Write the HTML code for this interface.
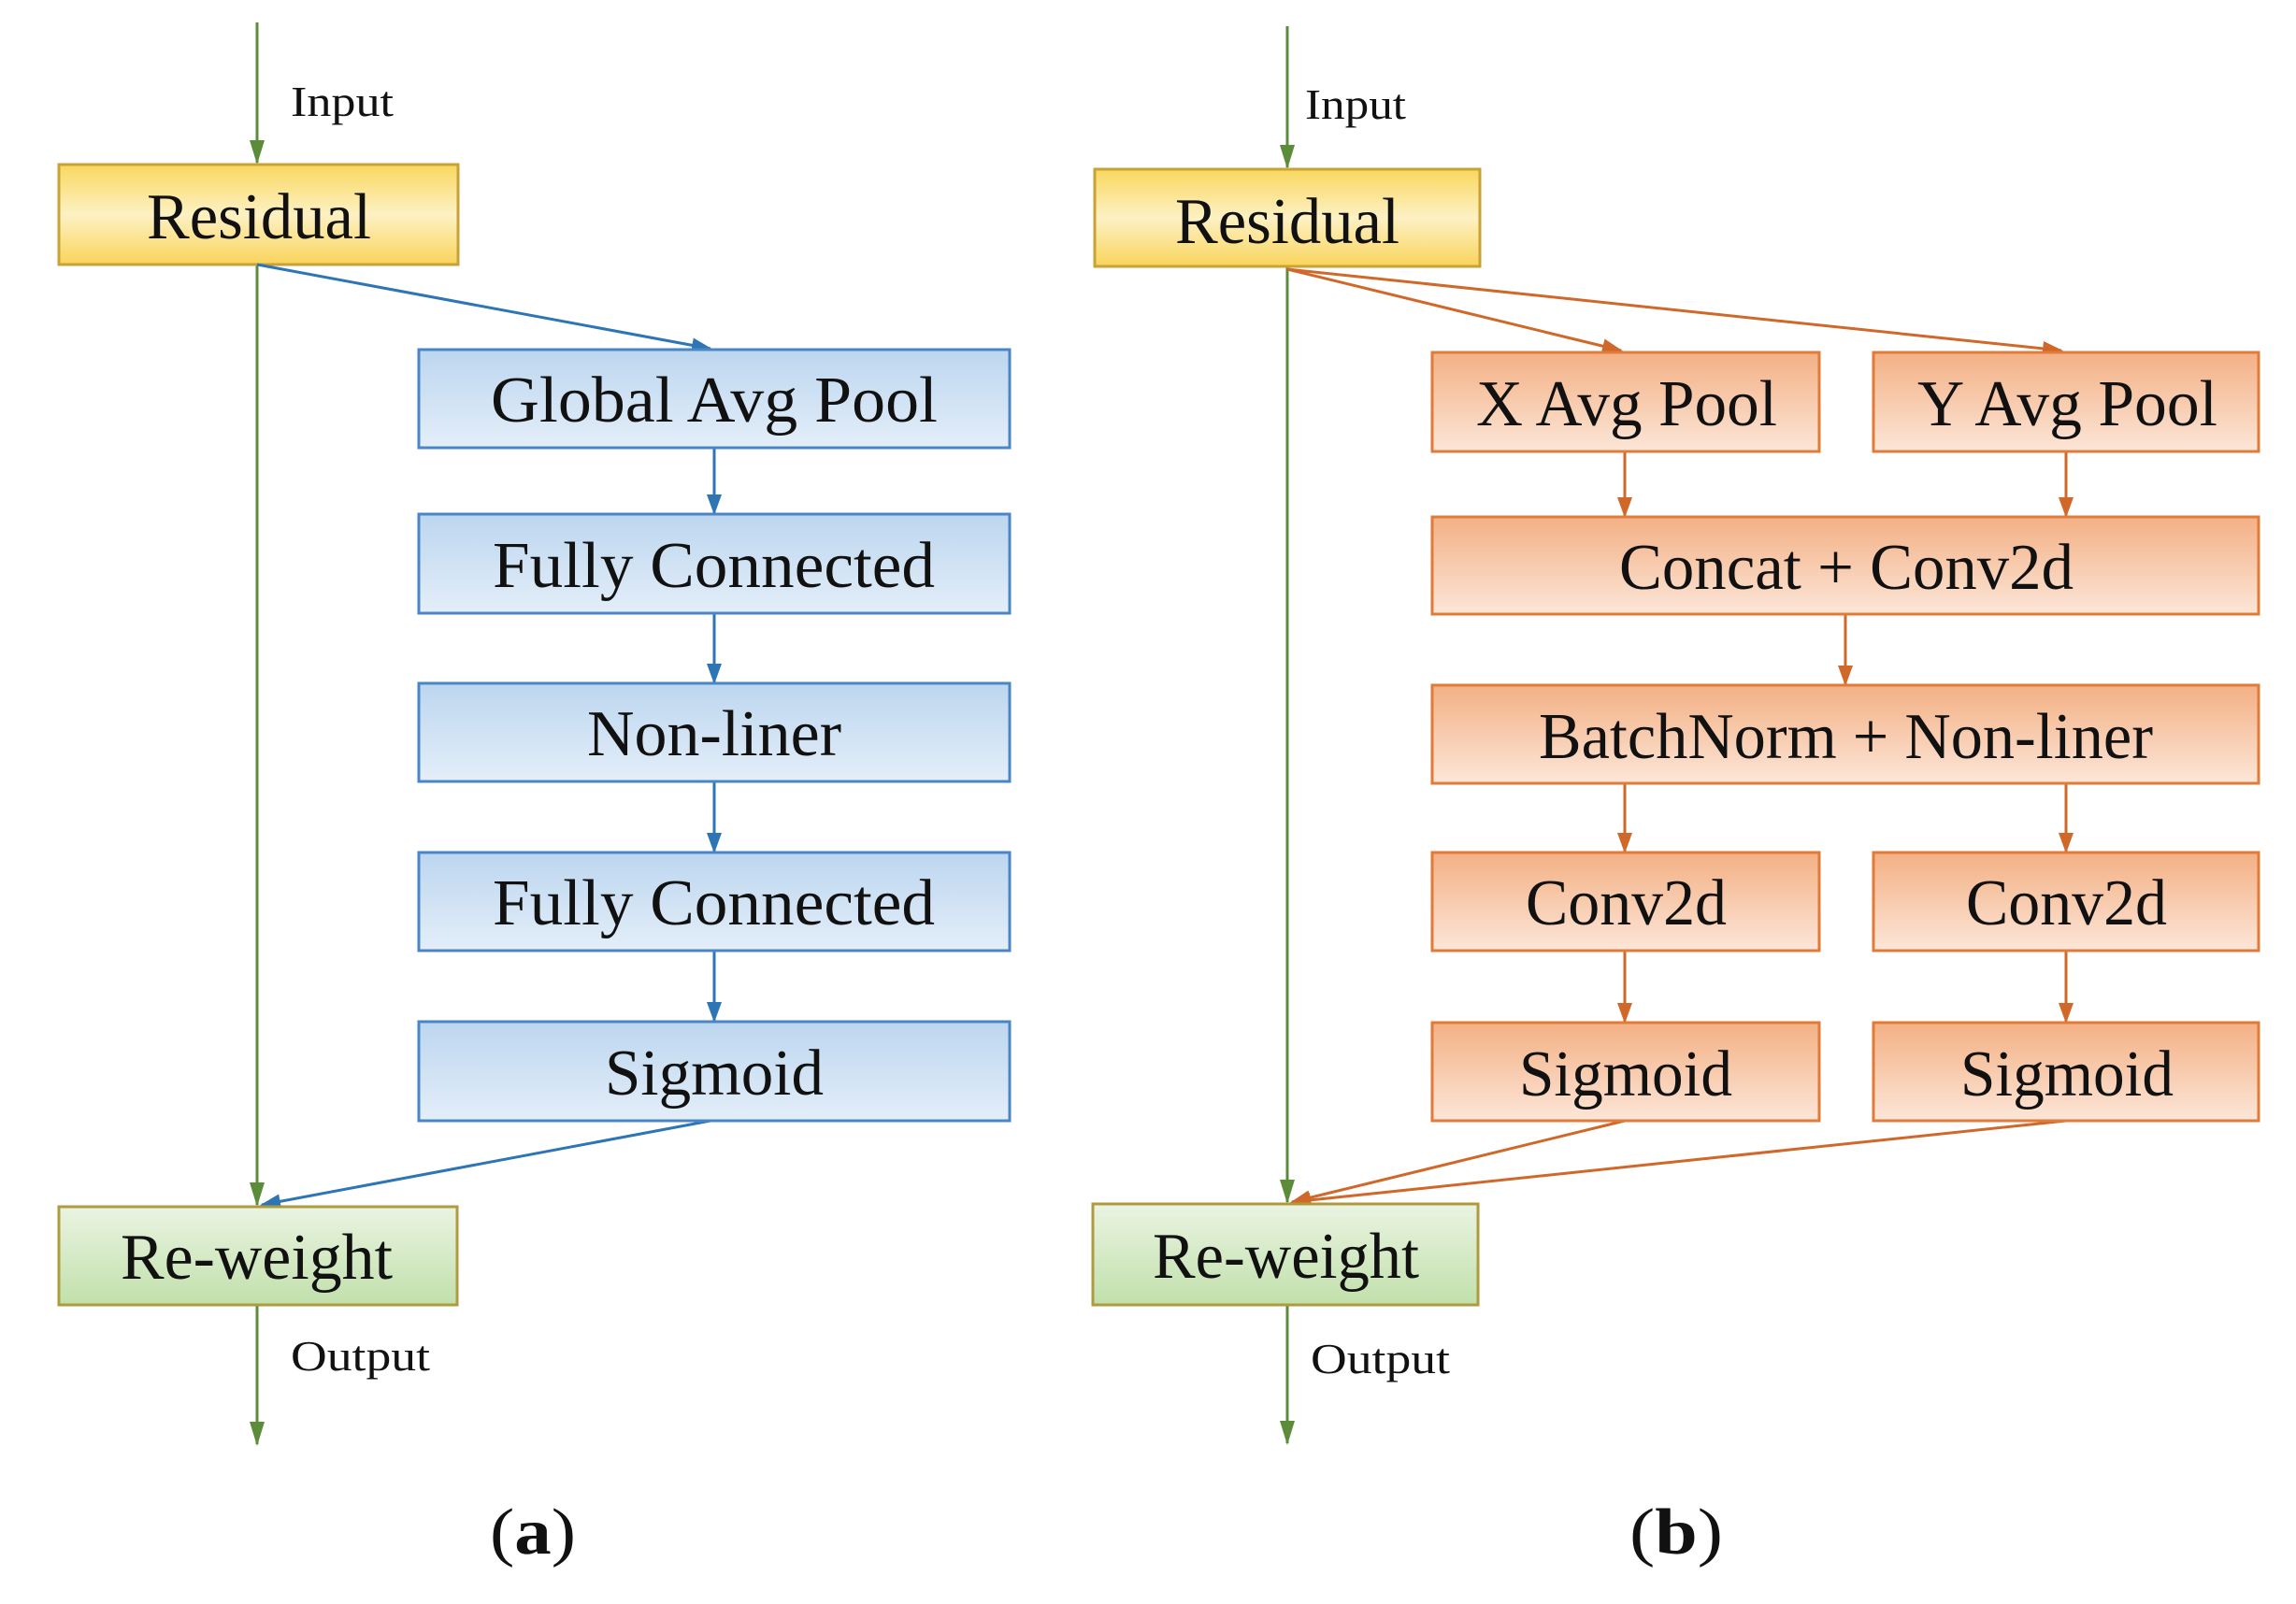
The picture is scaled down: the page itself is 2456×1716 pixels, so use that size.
<!DOCTYPE html>
<html><head><meta charset="utf-8"><style>
html,body{margin:0;padding:0;background:#fff;}
svg{display:block;}
text{font-family:"Liberation Serif",serif;fill:#111;}
</style></head><body>
<svg width="2456" height="1716" viewBox="0 0 2456 1716" xmlns="http://www.w3.org/2000/svg">
<defs>
<linearGradient id="gy" x1="0" y1="0" x2="0" y2="1"><stop offset="0" stop-color="#f9d75e"/><stop offset="0.5" stop-color="#fdf1c4"/><stop offset="1" stop-color="#f9d45a"/></linearGradient>
<linearGradient id="gb" x1="0" y1="0" x2="0" y2="1"><stop offset="0" stop-color="#bcd6ef"/><stop offset="1" stop-color="#e4eef9"/></linearGradient>
<linearGradient id="go" x1="0" y1="0" x2="0" y2="1"><stop offset="0" stop-color="#f3b084"/><stop offset="1" stop-color="#fce6d8"/></linearGradient>
<linearGradient id="gg" x1="0" y1="0" x2="0" y2="1"><stop offset="0" stop-color="#eaf4e2"/><stop offset="1" stop-color="#c1e0ab"/></linearGradient>
<marker id="ab" markerWidth="22" markerHeight="16" refX="20" refY="8" orient="auto" markerUnits="userSpaceOnUse"><path d="M0,0 L22,8 L0,16 z" fill="#2e75b6"/></marker>
<marker id="ao" markerWidth="22" markerHeight="16" refX="20" refY="8" orient="auto" markerUnits="userSpaceOnUse"><path d="M0,0 L22,8 L0,16 z" fill="#d0682a"/></marker>
<marker id="ag2" markerWidth="26" markerHeight="16" refX="24" refY="8" orient="auto" markerUnits="userSpaceOnUse"><path d="M0,0 L26,8 L0,16 z" fill="#5b8c3a"/></marker>
</defs>

<!-- ===== Panel (a) ===== -->
<g stroke="#5b8c3a" stroke-width="3" fill="none">
<line x1="275" y1="24" x2="275" y2="174" marker-end="url(#ag2)"/>
<line x1="275" y1="283" x2="275" y2="1289" marker-end="url(#ag2)"/>
<line x1="275" y1="1396" x2="275" y2="1545" marker-end="url(#ag2)"/>
</g>
<text x="311" y="124" font-size="46" textLength="110" lengthAdjust="spacingAndGlyphs">Input</text>
<text x="311" y="1466" font-size="46" textLength="149" lengthAdjust="spacingAndGlyphs">Output</text>

<rect x="63" y="176" width="427" height="107" fill="url(#gy)" stroke="#c9a236" stroke-width="3"/>
<text x="157" y="255" font-size="70" textLength="240" lengthAdjust="spacingAndGlyphs">Residual</text>

<g stroke="#2e75b6" stroke-width="3" fill="none">
<line x1="275" y1="283" x2="760" y2="373" marker-end="url(#ab)"/>
<line x1="764" y1="479" x2="764" y2="549" marker-end="url(#ab)"/>
<line x1="764" y1="656" x2="764" y2="730" marker-end="url(#ab)"/>
<line x1="764" y1="836" x2="764" y2="911" marker-end="url(#ab)"/>
<line x1="764" y1="1017" x2="764" y2="1092" marker-end="url(#ab)"/>
<line x1="760" y1="1199" x2="280" y2="1289" marker-end="url(#ab)"/>
</g>
<g fill="url(#gb)" stroke="#4a86c5" stroke-width="3">
<rect x="448" y="374" width="632" height="105"/>
<rect x="448" y="550" width="632" height="106"/>
<rect x="448" y="731" width="632" height="105"/>
<rect x="448" y="912" width="632" height="105"/>
<rect x="448" y="1093" width="632" height="106"/>
</g>
<text x="525" y="451" font-size="70" textLength="478" lengthAdjust="spacingAndGlyphs">Global Avg Pool</text>
<text x="527" y="628" font-size="70" textLength="473" lengthAdjust="spacingAndGlyphs">Fully Connected</text>
<text x="628" y="808" font-size="70" textLength="272" lengthAdjust="spacingAndGlyphs">Non-liner</text>
<text x="527" y="989" font-size="70" textLength="473" lengthAdjust="spacingAndGlyphs">Fully Connected</text>
<text x="647" y="1171" font-size="70" textLength="234" lengthAdjust="spacingAndGlyphs">Sigmoid</text>

<rect x="63" y="1291" width="426" height="105" fill="url(#gg)" stroke="#b09a3e" stroke-width="3"/>
<text x="129" y="1368" font-size="70" textLength="291" lengthAdjust="spacingAndGlyphs">Re-weight</text>

<text x="524" y="1662" font-size="70" textLength="92" lengthAdjust="spacingAndGlyphs">(<tspan font-weight="bold">a</tspan>)</text>

<!-- ===== Panel (b) ===== -->
<g transform="translate(-5,0)">
<g stroke="#5b8c3a" stroke-width="3" fill="none">
<line x1="1382" y1="28" x2="1382" y2="179" marker-end="url(#ag2)"/>
<line x1="1382" y1="285" x2="1382" y2="1286" marker-end="url(#ag2)"/>
<line x1="1382" y1="1396" x2="1382" y2="1544" marker-end="url(#ag2)"/>
</g>
<text x="1401" y="127" font-size="46" textLength="108" lengthAdjust="spacingAndGlyphs">Input</text>
<text x="1407" y="1469" font-size="46" textLength="149" lengthAdjust="spacingAndGlyphs">Output</text>

<rect x="1176" y="181" width="412" height="104" fill="url(#gy)" stroke="#c9a236" stroke-width="3"/>
<text x="1262" y="260" font-size="70" textLength="240" lengthAdjust="spacingAndGlyphs">Residual</text>

<g stroke="#d0682a" stroke-width="3" fill="none">
<line x1="1382" y1="288" x2="1739" y2="375" marker-end="url(#ao)"/>
<line x1="1382" y1="288" x2="2210" y2="375" marker-end="url(#ao)"/>
<line x1="1743" y1="483" x2="1743" y2="552" marker-end="url(#ao)"/>
<line x1="2215" y1="483" x2="2215" y2="552" marker-end="url(#ao)"/>
<line x1="1979" y1="657" x2="1979" y2="732" marker-end="url(#ao)"/>
<line x1="1743" y1="838" x2="1743" y2="911" marker-end="url(#ao)"/>
<line x1="2215" y1="838" x2="2215" y2="911" marker-end="url(#ao)"/>
<line x1="1743" y1="1017" x2="1743" y2="1093" marker-end="url(#ao)"/>
<line x1="2215" y1="1017" x2="2215" y2="1093" marker-end="url(#ao)"/>
<line x1="1743" y1="1199" x2="1387" y2="1286" marker-end="url(#ao)"/>
<line x1="2215" y1="1199" x2="1387" y2="1286" marker-end="url(#ao)"/>
</g>
<g fill="url(#go)" stroke="#e07b39" stroke-width="3">
<rect x="1537" y="377" width="414" height="106"/>
<rect x="2009" y="377" width="412" height="106"/>
<rect x="1537" y="553" width="884" height="104"/>
<rect x="1537" y="733" width="884" height="105"/>
<rect x="1537" y="912" width="414" height="105"/>
<rect x="2009" y="912" width="412" height="105"/>
<rect x="1537" y="1094" width="414" height="105"/>
<rect x="2009" y="1094" width="412" height="105"/>
</g>
<text x="1584" y="455" font-size="70" textLength="322" lengthAdjust="spacingAndGlyphs">X Avg Pool</text>
<text x="2056" y="455" font-size="70" textLength="321" lengthAdjust="spacingAndGlyphs">Y Avg Pool</text>
<text x="1737" y="630" font-size="70" textLength="486" lengthAdjust="spacingAndGlyphs">Concat + Conv2d</text>
<text x="1651" y="811" font-size="70" textLength="657" lengthAdjust="spacingAndGlyphs">BatchNorm + Non-liner</text>
<text x="1637" y="989" font-size="70" textLength="215" lengthAdjust="spacingAndGlyphs">Conv2d</text>
<text x="2108" y="989" font-size="70" textLength="215" lengthAdjust="spacingAndGlyphs">Conv2d</text>
<text x="1630" y="1172" font-size="70" textLength="228" lengthAdjust="spacingAndGlyphs">Sigmoid</text>
<text x="2102" y="1172" font-size="70" textLength="228" lengthAdjust="spacingAndGlyphs">Sigmoid</text>

<rect x="1174" y="1288" width="412" height="108" fill="url(#gg)" stroke="#b09a3e" stroke-width="3"/>
<text x="1238" y="1367" font-size="70" textLength="285" lengthAdjust="spacingAndGlyphs">Re-weight</text>

<text x="1748" y="1662" font-size="70" textLength="100" lengthAdjust="spacingAndGlyphs">(<tspan font-weight="bold">b</tspan>)</text>
</g>
</svg>
</body></html>
